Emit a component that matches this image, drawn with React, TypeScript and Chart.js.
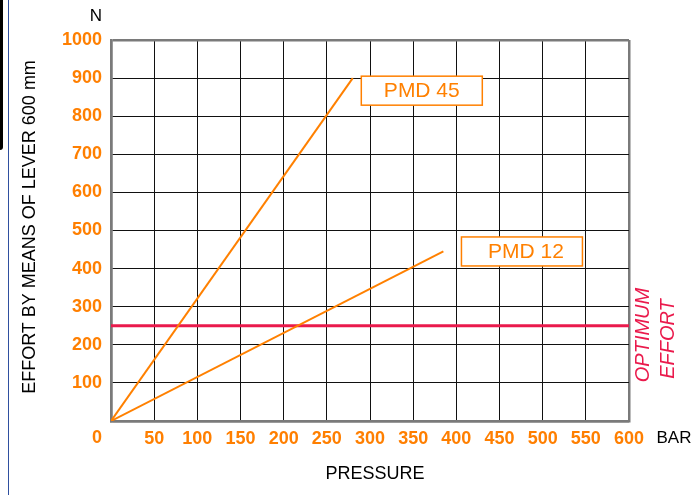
import React, { useEffect, useRef } from "react";
import { Chart, registerables } from "chart.js";

Chart.register(...registerables);

// ---- data ----
const pmd45Pressure = [0, 280];
const pmd45Effort = [0, 900];
const pmd12Pressure = [0, 385];
const pmd12Effort = [0, 445];
const optimumPressure = [0, 600];
const optimumEffort = [250, 250];
const xTickStep = 50;
const yTickStep = 100;
const seriesLabels = ["PMD 45", "PMD 12"];
// label box centres in data units
const labelPressure = [360, 476];
const labelEffort = [867, 445];

const ORANGE = "#ff8000";
const TICK_ORANGE = "#ff7f00";
const RED = "#ea1a4c";
const GRID = "#111111";
const FRAME = "#7a7a7a";
const FONT = "'Liberation Sans', Arial, sans-serif";

const toPts = (xs: number[], ys: number[]) => xs.map((x, i) => ({ x, y: ys[i] }));

const extrasPlugin = {
  id: "extras",
  afterDatasetsDraw(chart: any) {
    const { ctx, scales } = chart;
    const xs = scales.x;
    const ys = scales.y;
    ctx.save();
    seriesLabels.forEach((lab, i) => {
      const cx = xs.getPixelForValue(labelPressure[i]);
      const cy = ys.getPixelForValue(labelEffort[i]);
      const w = 121;
      const h = 29;
      ctx.fillStyle = "#ffffff";
      ctx.fillRect(cx - w / 2, cy - h / 2, w, h);
      ctx.strokeStyle = ORANGE;
      ctx.lineWidth = 1.5;
      ctx.strokeRect(cx - w / 2, cy - h / 2, w, h);
      ctx.fillStyle = ORANGE;
      ctx.font = `21px ${FONT}`;
      ctx.textAlign = "center";
      ctx.textBaseline = "middle";
      ctx.fillText(lab, cx + (i === 1 ? 4 : 0), cy + 1);
    });
    ctx.restore();
  },
  afterDraw(chart: any) {
    const { ctx, chartArea } = chart;
    ctx.save();
    ctx.textAlign = "center";
    ctx.textBaseline = "middle";
    ctx.fillStyle = "#000";
    ctx.font = `17px ${FONT}`;
    ctx.fillText("N", chartArea.left - 15, chartArea.top - 24);
    ctx.fillStyle = TICK_ORANGE;
    ctx.font = `bold 18px ${FONT}`;
    ctx.fillText("0", chartArea.left - 14, chartArea.bottom + 17);
    ctx.fillStyle = "#000";
    ctx.font = `17px ${FONT}`;
    ctx.fillText("BAR", chartArea.right + 45, chartArea.bottom + 17);
    ctx.font = `18px ${FONT}`;
    ctx.fillText("PRESSURE", 375, chartArea.bottom + 53);
    ctx.save();
    ctx.translate(30, 227);
    ctx.rotate(-Math.PI / 2);
    ctx.font = `18px ${FONT}`;
    ctx.fillText("EFFORT BY MEANS OF LEVER 600 mm", 0, 0);
    ctx.restore();
    ctx.fillStyle = RED;
    ctx.font = `italic 20px ${FONT}`;
    ctx.save();
    ctx.translate(chartArea.right + 14, 335);
    ctx.rotate(-Math.PI / 2);
    ctx.fillText("OPTIMUM", 0, 0);
    ctx.restore();
    ctx.save();
    ctx.translate(chartArea.right + 39, 339);
    ctx.rotate(-Math.PI / 2);
    ctx.fillText("EFFORT", 0, 0);
    ctx.restore();
    ctx.restore();
  },
};

export default function App() {
  const ref = useRef<HTMLCanvasElement | null>(null);
  useEffect(() => {
    if (!ref.current) return;
    const chart = new Chart(ref.current, {
      type: "line",
      data: {
        datasets: [
          {
            label: seriesLabels[0],
            data: toPts(pmd45Pressure, pmd45Effort),
            borderColor: ORANGE,
            borderWidth: 2,
            pointRadius: 0,
          },
          {
            label: seriesLabels[1],
            data: toPts(pmd12Pressure, pmd12Effort),
            borderColor: ORANGE,
            borderWidth: 2,
            pointRadius: 0,
          },
          {
            label: "OPTIMUM EFFORT",
            data: toPts(optimumPressure, optimumEffort),
            borderColor: RED,
            borderWidth: 3,
            pointRadius: 0,
          },
        ],
      },
      options: {
        responsive: false,
        animation: false,
        layout: { padding: { top: 40, right: 70, left: 0, bottom: 0 } },
        plugins: { legend: { display: false }, tooltip: { enabled: false } },
        scales: {
          x: {
            type: "linear",
            min: 0,
            max: 600,
            afterFit: (s: any) => {
              s.height = 74;
            },
            ticks: {
              stepSize: xTickStep,
              autoSkip: false,
              maxRotation: 0,
              padding: 7,
              color: TICK_ORANGE,
              font: { family: FONT, size: 18, weight: "bold" },
              callback: (v: any) => (v === 0 ? "" : String(v)),
            },
            grid: {
              drawTicks: false,
              color: (c: any) => (c.tick && (c.tick.value === 600 || c.tick.value === 0) ? FRAME : GRID),
              lineWidth: (c: any) => (c.tick && (c.tick.value === 600 || c.tick.value === 0) ? 2.5 : 1),
            },
            border: { color: FRAME, width: 2.5 },
          },
          y: {
            type: "linear",
            min: 0,
            max: 1000,
            afterFit: (s: any) => {
              s.width = 111;
            },
            ticks: {
              stepSize: yTickStep,
              autoSkip: false,
              padding: 9,
              color: TICK_ORANGE,
              font: { family: FONT, size: 18, weight: "bold" },
              callback: (v: any) => (v === 0 ? "" : String(v)),
            },
            grid: {
              drawTicks: false,
              color: (c: any) => (c.tick && (c.tick.value === 1000 || c.tick.value === 0) ? FRAME : GRID),
              lineWidth: (c: any) => (c.tick && (c.tick.value === 1000 || c.tick.value === 0) ? 2.5 : 1),
            },
            border: { color: FRAME, width: 2.5 },
          },
        },
      },
      plugins: [extrasPlugin],
    } as any);
    return () => chart.destroy();
  }, []);

  return (
    <div style={{ position: "absolute", left: 0, top: 0, width: 699, height: 495, background: "#fff", overflow: "hidden" }}>
      <div style={{ position: "absolute", left: 0, top: 0, width: 3, height: 150, background: "#000", borderBottomRightRadius: 3 }} />
      <div style={{ position: "absolute", left: 8, top: 0, width: 1, height: 495, background: "#2f4f9f" }} />
      <canvas ref={ref} width={699} height={495} style={{ display: "block", position: "absolute", left: 0, top: 0 }} />
    </div>
  );
}
